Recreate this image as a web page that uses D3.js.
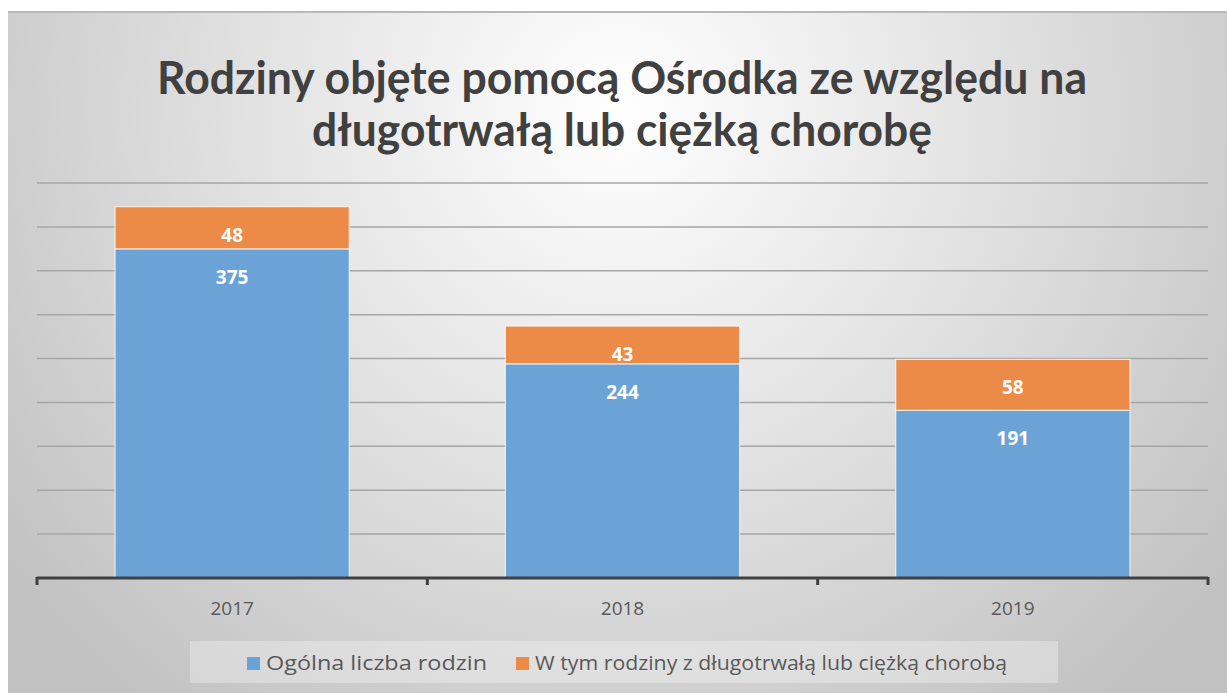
<!DOCTYPE html>
<html>
<head>
<meta charset="utf-8">
<script src="https://cdn.jsdelivr.net/npm/d3@7"></script>
<style>
  body { margin: 0; background: #fff; }
  svg { display: block; }
</style>
</head>
<body>
<div id="chart"></div>
<script>
const years = ["2017", "2018", "2019"];
const ogolnaLiczba = [375, 244, 191];
const zChoroba = [48, 43, 58];
const seriesNames = ["Ogólna liczba rodzin", "W tym rodziny z długotrwałą lub ciężką chorobą"];
const seriesColors = ["#6ca3d7", "#ec8a48"];
const titleLines = ["Rodziny objęte pomocą Ośrodka ze względu na", "długotrwałą lub ciężką chorobę"];

function drawChart() {
    const W = 1227, H = 693;
    const rows = years.map((y, i) => ({ year: y, a: ogolnaLiczba[i], b: zChoroba[i] }));
    const stacked = d3.stack().keys(["a", "b"])(rows);

    const svg = d3.select("#chart")
        .append("svg")
        .attr("width", W)
        .attr("height", H);

    // background like the office chart area: light in the middle, grey at the edges
    const defs = svg.append("defs");
    const grad = defs.append("radialGradient")
        .attr("id", "bg")
        .attr("gradientUnits", "userSpaceOnUse")
        .attr("cx", 620).attr("cy", 110).attr("r", 760)
        .attr("fx", 620).attr("fy", 110);
    grad.append("stop").attr("offset", "0").attr("stop-color", "#ffffff");
    grad.append("stop").attr("offset", "0.45").attr("stop-color", "#e4e4e4");
    grad.append("stop").attr("offset", "1").attr("stop-color", "#c2c2c2");

    svg.append("rect")
        .attr("x", 8).attr("y", 11)
        .attr("width", W - 8).attr("height", H - 11)
        .attr("fill", "url(#bg)");
    svg.append("line")
        .attr("x1", 8).attr("x2", W).attr("y1", 12).attr("y2", 12)
        .attr("stroke", "#b8b8b8").attr("stroke-width", 2);

    // title
    const title = svg.append("g");
    titleLines.forEach((t, i) => {
        title.append("text")
            .attr("x", 622)
            .attr("y", 94 + i * 52)
            .attr("text-anchor", "middle")
            .attr("font-family", "Lato, 'Open Sans', sans-serif")
            .attr("font-weight", 700)
            .attr("font-size", 46)
            .attr("fill", "#404040")
            .attr("textLength", i === 0 ? 930 : 620)
            .attr("lengthAdjust", "spacingAndGlyphs")
            .text(t);
    });

    const x = d3.scaleBand()
        .domain(years)
        .range([37, 1208])
        .paddingInner(0.4)
        .paddingOuter(0.2);

    const y = d3.scaleLinear()
        .domain([0, 450])
        .range([578, 183]);

    // gridlines
    svg.append("g")
        .selectAll("line")
        .data(y.ticks(9).filter(d => d > 0))
        .enter()
        .append("line")
        .attr("x1", 37).attr("x2", 1208)
        .attr("y1", d => y(d)).attr("y2", d => y(d))
        .attr("stroke", "#a6a6a6")
        .attr("stroke-width", 1.5);

    // bars
    const layers = svg.append("g")
        .selectAll("g")
        .data(stacked)
        .enter()
        .append("g")
        .attr("fill", (d, i) => seriesColors[i]);

    layers.selectAll("rect")
        .data(d => d)
        .enter()
        .append("rect")
        .attr("x", d => x(d.data.year))
        .attr("y", d => y(d[1]))
        .attr("width", x.bandwidth())
        .attr("height", d => y(d[0]) - y(d[1]))
        .attr("stroke", "#ffffff")
        .attr("stroke-opacity", 0.7)
        .attr("stroke-width", 1.2);

    // value labels (inside end)
    layers.selectAll("text")
        .data(d => d)
        .enter()
        .append("text")
        .attr("x", d => x(d.data.year) + x.bandwidth() / 2)
        .attr("y", d => y(d[1]) + 35)
        .attr("text-anchor", "middle")
        .attr("font-family", "'Open Sans', sans-serif")
        .attr("font-weight", 700)
        .attr("font-size", 19)
        .attr("fill", "#ffffff")
        .text(d => d[1] - d[0]);

    // x axis
    const axis = svg.append("g");
    axis.append("line")
        .attr("x1", 37).attr("x2", 1208)
        .attr("y1", 578).attr("y2", 578)
        .attr("stroke", "#404040").attr("stroke-width", 3);

    const boundaries = years.map(d => x(d) - x.step() * x.paddingInner() / 2);
    boundaries[0] = 37;
    boundaries.push(1208);
    axis.selectAll(".tick")
        .data(boundaries)
        .enter()
        .append("line")
        .attr("x1", d => d).attr("x2", d => d)
        .attr("y1", 577).attr("y2", 585)
        .attr("stroke", "#404040").attr("stroke-width", 3);

    axis.selectAll(".yr")
        .data(years)
        .enter()
        .append("text")
        .attr("x", d => x(d) + x.bandwidth() / 2)
        .attr("y", 615)
        .attr("text-anchor", "middle")
        .attr("font-family", "'Open Sans', sans-serif")
        .attr("font-size", 19)
        .attr("fill", "#595959")
        .text(d => d);

    // legend
    const legend = svg.append("g");
    legend.append("rect")
        .attr("x", 190).attr("y", 641)
        .attr("width", 868).attr("height", 42)
        .attr("fill", "#ffffff").attr("fill-opacity", 0.3);

    const legendX = [247, 516];
    const legendW = [221, 472];
    seriesNames.forEach((name, i) => {
        legend.append("rect")
            .attr("x", legendX[i]).attr("y", 657)
            .attr("width", 13).attr("height", 13)
            .attr("fill", seriesColors[i]);
        legend.append("text")
            .attr("x", legendX[i] + 19)
            .attr("y", 670)
            .attr("font-family", "'Open Sans', sans-serif")
            .attr("font-size", 20)
            .attr("fill", "#595959")
            .attr("textLength", legendW[i])
            .attr("lengthAdjust", "spacingAndGlyphs")
            .text(name);
    });
}

drawChart();
</script>
</body>
</html>
